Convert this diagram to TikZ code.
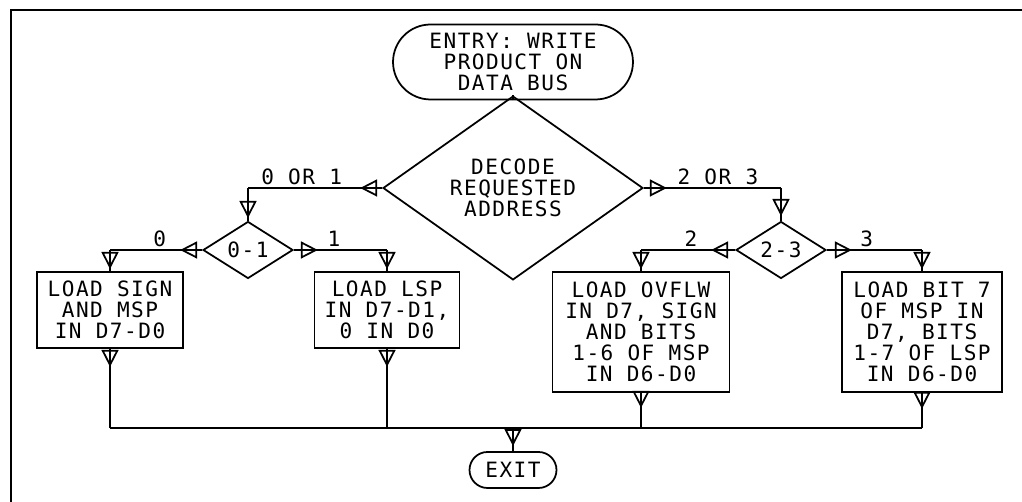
\documentclass[tikz,border=0pt]{standalone}
\usepackage{fontspec}
\setmainfont{DejaVu Sans Mono}[LetterSpace=7]
\usetikzlibrary{
  arrows.meta,
  positioning,
  shapes.geometric,
  decorations.markings
}

\begin{document}
\begin{tikzpicture}[
  x=0.02cm, y=-0.02cm,
  line width=1pt,
  font=\fontsize{12}{11.9}\selectfont,
  term/.style={draw, rounded corners=0.75cm, align=center, inner sep=0pt,
    minimum width=4.8cm, minimum height=1.5cm},
  decide/.style={draw, diamond, align=center, inner sep=0pt},
  block/.style={draw, align=center, inner sep=0pt},
  flow/.style={line width=1pt},
  arrowat/.style={postaction={decorate, decoration={markings,
    mark=at position #1 with {\arrow{Triangle[open, length=0.34cm, width=0.34cm]}}}}},
  lbl/.style={above, inner sep=1.5pt}
]
  \useasboundingbox (0,0) rectangle (1022,502);

  % frame (top and left edge only)
  \draw[line width=1.3pt] (11,502) -- (11,10) -- (1022,10);

  % entry and first decision
  \node[term] (entry) at (513,62) {ENTRY: WRITE\\PRODUCT ON\\DATA BUS};
  \node[decide, minimum width=5.2cm, minimum height=2.6cm] (decode) at (513,188)
    {DECODE\\REQUESTED\\ADDRESS};
  \draw[flow, arrowat=0.32cm] (entry) -- (decode);

  % second decisions
  \node[decide, minimum width=1.8cm, minimum height=0.92cm] (sel01) at (248,250) {0-1};
  \node[decide, minimum width=1.8cm, minimum height=0.92cm] (sel23) at (781,250) {2-3};

  % load blocks
  \node[block, minimum width=2.92cm, minimum height=1.52cm] (msp) at (110,310)
    {LOAD SIGN\\AND MSP\\IN D7-D0};
  \node[block, minimum width=2.9cm, minimum height=1.52cm] (lsp) at (387,310)
    {LOAD LSP\\IN D7-D1,\\0 IN D0};
  \node[block, minimum width=3.54cm, minimum height=2.4cm] (ovflw) at (641,332)
    {LOAD OVFLW\\IN D7, SIGN\\AND BITS\\1-6 OF MSP\\IN D6-D0};
  \node[block, minimum width=3.2cm, minimum height=2.4cm] (bit7) at (922,332)
    {LOAD BIT 7\\OF MSP IN\\D7, BITS\\1-7 OF LSP\\IN D6-D0};

  % exit
  \node[term, rounded corners=0.36cm, minimum width=1.74cm, minimum height=0.72cm]
    (exit) at (513,470) {EXIT};

  % corners of the branches
  \coordinate (c01) at (sel01.north |- decode.west);
  \coordinate (c23) at (sel23.north |- decode.east);
  \coordinate (c0) at (msp.north |- sel01.west);
  \coordinate (c1) at (lsp.north |- sel01.east);
  \coordinate (c2) at (ovflw.north |- sel23.west);
  \coordinate (c3) at (bit7.north |- sel23.east);
  \coordinate (bus) at (513,428);

  % left branch
  \draw[flow, arrowat=0.44cm] (decode.west) -- node[lbl, pos=0.6] {0 OR 1} (c01);
  \draw[flow, arrowat=0.6cm] (c01) -- (sel01.north);
  \draw[flow, arrowat=0.44cm] (sel01.west) -- node[lbl, pos=0.46] {0} (c0);
  \draw[flow, arrowat=0.38cm] (c0) -- (msp.north);
  \draw[flow, arrowat=0.48cm] (sel01.east) -- node[lbl, pos=0.43] {1} (c1);
  \draw[flow, arrowat=0.38cm] (c1) -- (lsp.north);

  % right branch
  \draw[flow, arrowat=0.46cm] (decode.east) -- node[lbl, pos=0.54] {2 OR 3} (c23);
  \draw[flow, arrowat=0.56cm] (c23) -- (sel23.north);
  \draw[flow, arrowat=0.48cm] (sel23.west) -- node[lbl, pos=0.47] {2} (c2);
  \draw[flow, arrowat=0.38cm] (c2) -- (ovflw.north);
  \draw[flow, arrowat=0.5cm] (sel23.east) -- node[lbl, pos=0.42] {3} (c3);
  \draw[flow, arrowat=0.38cm] (c3) -- (bit7.north);

  % collecting line to exit
  \draw[flow] (msp.south |- bus) -- (bit7.south |- bus);
  \draw[flow, arrowat=0.36cm] (msp.south) -- (msp.south |- bus);
  \draw[flow, arrowat=0.36cm] (lsp.south) -- (lsp.south |- bus);
  \draw[flow, arrowat=0.3cm] (ovflw.south) -- (ovflw.south |- bus);
  \draw[flow, arrowat=0.32cm] (bit7.south) -- (bit7.south |- bus);
  \draw[flow, arrowat=0.36cm] (bus) -- (exit);

\end{tikzpicture}
\end{document}
